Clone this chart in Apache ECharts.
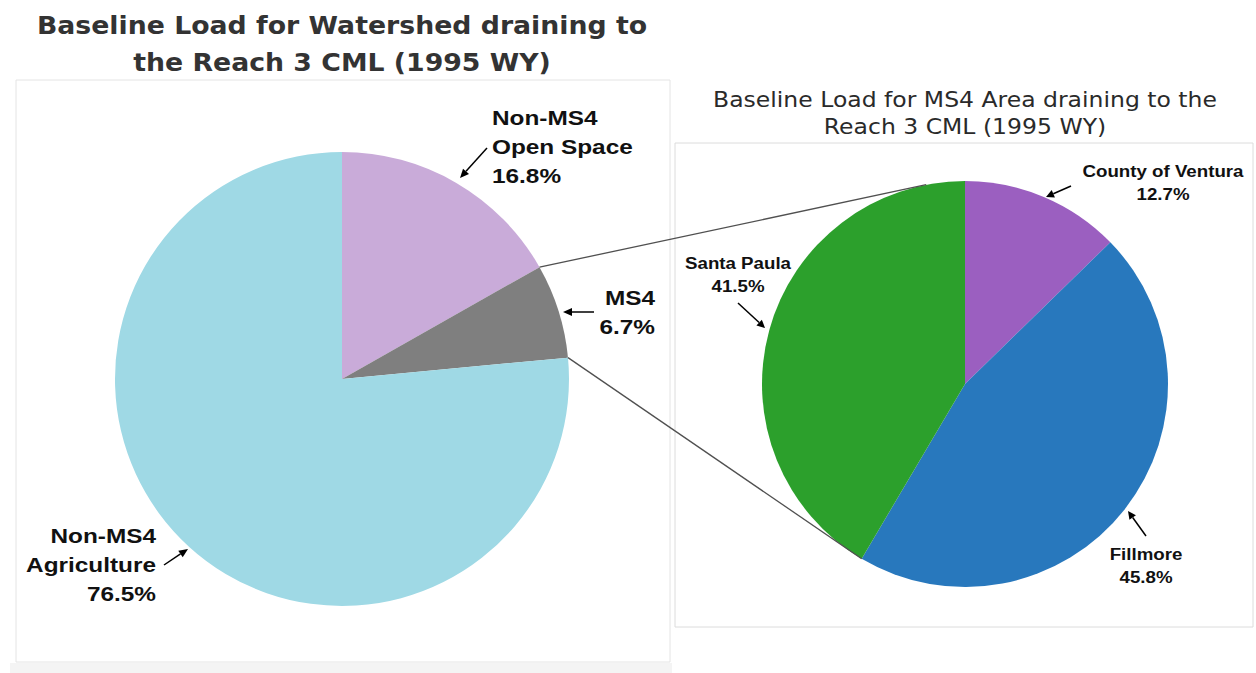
<!DOCTYPE html>
<html>
<head>
<meta charset="utf-8">
<title>Baseline Load - Reach 3 CML</title>
<script src="https://cdn.jsdelivr.net/npm/echarts@6/dist/echarts.min.js"></script>
<style>
  html, body { margin: 0; padding: 0; background: #fff; }
  #chart { width: 1256px; height: 673px; }
</style>
</head>
<body>
<div id="chart"></div>
<script>
// left pie: whole watershed
const watershedNames = ['Non-MS4\nOpen Space', 'MS4', 'Non-MS4\nAgriculture']
const watershedValues = [16.8, 6.7, 76.5]
const watershedColors = ['#C9ABD9', '#7F7F7F', '#9FD9E5']

// right pie: MS4 area split
const ms4Names = ['County of Ventura', 'Fillmore', 'Santa Paula']
const ms4Values = [12.7, 45.8, 41.5]
const ms4Colors = ['#9B5FC0', '#2878BD', '#2CA02C']

const leftTitle = 'Baseline Load for Watershed draining to\nthe Reach 3 CML (1995 WY)'
const rightTitle = 'Baseline Load for MS4 Area draining to the\nReach 3 CML (1995 WY)'

// layout
const LEFT = { cx: 342, cy: 379, r: 227 }
const RIGHT = { cx: 965, cy: 384, r: 203 }

const leftLabels = [
    { x: 492, y: 147, align: 'left', arrow: [487, 148, 460, 178] },
    { x: 655, y: 312, align: 'right', arrow: [594, 312, 563, 312] },
    { x: 156, y: 565, align: 'right', arrow: [164, 565, 188, 549] }
]
const rightLabels = [
    { x: 1163, y: 183, align: 'center', arrow: [1071, 186, 1046, 197] },
    { x: 1146, y: 566, align: 'center', arrow: [1146, 536, 1128, 511] },
    { x: 738, y: 275, align: 'center', arrow: [738, 303, 765, 328] }
]

function sum(arr) {
    return arr.reduce((a, b) => a + b, 0)
}

// point on the rim, frac = share of the circle clockwise from 12 o'clock
function rim(p, frac) {
    let a = frac * 2 * Math.PI
    return [p.cx + p.r * Math.sin(a), p.cy - p.r * Math.cos(a)]
}

function arrow(a, head) {
    let [x1, y1, x2, y2] = a
    let ang = Math.atan2(y2 - y1, x2 - x1)
    let len = head || 9, w = 4
    let bx = x2 - len * Math.cos(ang), by = y2 - len * Math.sin(ang)
    let px = -Math.sin(ang) * w, py = Math.cos(ang) * w
    return [{
        type: 'line', z: 100, silent: true,
        shape: { x1: x1, y1: y1, x2: bx, y2: by },
        style: { stroke: '#000', lineWidth: 1.5 }
    }, {
        type: 'polygon', z: 100, silent: true,
        shape: { points: [[x2, y2], [bx + px, by + py], [bx - px, by - py]] },
        style: { fill: '#000' }
    }]
}

function labelText(name, value) {
    return name + '\n' + value.toFixed(1) + '%'
}

// the original fonts run wide, so text gets a little horizontal stretch
function text(str, x, y, o) {
    return {
        type: 'text', z: 100, silent: true, x: x, y: y, scaleX: o.stretch || 1,
        style: {
            text: str,
            fontFamily: o.family || '"Liberation Sans", Arial, sans-serif',
            fontSize: o.size, fontWeight: o.weight || 'bold', fill: o.color || '#111',
            align: o.align || 'center', verticalAlign: 'middle', lineHeight: o.lineHeight
        }
    }
}

let graphics = []

// panel frames
graphics.push({
    type: 'rect', z: 0, silent: true,
    shape: { x: 16, y: 80, width: 654, height: 582 },
    style: { fill: 'none', stroke: '#E4E4E4', lineWidth: 1 }
})
graphics.push({
    type: 'rect', z: 0, silent: true,
    shape: { x: 10, y: 663, width: 662, height: 10 },
    style: { fill: '#F4F4F4' }
})
graphics.push({
    type: 'rect', z: 0, silent: true,
    shape: { x: 675, y: 143, width: 578, height: 484 },
    style: { fill: 'none', stroke: '#DCDCDC', lineWidth: 1 }
})

// titles
graphics.push(text(leftTitle, LEFT.cx, 43.5, {
    family: '"DejaVu Sans", sans-serif', size: 25, color: '#333', lineHeight: 37, stretch: 1.07
}))
graphics.push(text(rightTitle, RIGHT.cx, 113, {
    family: '"DejaVu Sans", sans-serif', size: 21, weight: 'normal', color: '#2a2a2a', lineHeight: 27, stretch: 1.12
}))

// connector lines from the MS4 slice to the right pie
let wsTotal = sum(watershedValues), msTotal = sum(ms4Values)
let ms4Start = rim(LEFT, watershedValues[0] / wsTotal)
let ms4End = rim(LEFT, (watershedValues[0] + watershedValues[1]) / wsTotal)
let rightTop = rim(RIGHT, 349 / 360)
let rightBottom = rim(RIGHT, (ms4Values[0] + ms4Values[1]) / msTotal)
graphics.push({
    type: 'line', z: 90, silent: true,
    shape: { x1: ms4Start[0], y1: ms4Start[1], x2: rightTop[0], y2: rightTop[1] },
    style: { stroke: '#505050', lineWidth: 1.3 }
})
graphics.push({
    type: 'line', z: 90, silent: true,
    shape: { x1: ms4End[0], y1: ms4End[1], x2: rightBottom[0], y2: rightBottom[1] },
    style: { stroke: '#505050', lineWidth: 1.3 }
})

watershedNames.forEach((n, i) => {
    let l = leftLabels[i]
    graphics.push(text(labelText(n, watershedValues[i]), l.x, l.y, {
        size: 21, align: l.align, lineHeight: 29, stretch: 1.16
    }))
    graphics = graphics.concat(arrow(l.arrow))
})

ms4Names.forEach((n, i) => {
    let l = rightLabels[i]
    graphics.push(text(labelText(n, ms4Values[i]), l.x, l.y, {
        size: 17, align: l.align, lineHeight: 23, stretch: 1.1
    }))
    graphics = graphics.concat(arrow(l.arrow, 8))
})

let chart = echarts.init(document.getElementById('chart'), null, { renderer: 'svg' })

const option = {
    backgroundColor: '#fff',
    animation: false,
    series: [{
        name: 'Watershed',
        type: 'pie',
        center: [LEFT.cx, LEFT.cy],
        radius: LEFT.r,
        startAngle: 90,
        clockwise: true,
        silent: true,
        label: { show: false },
        labelLine: { show: false },
        itemStyle: { borderWidth: 0 },
        data: watershedNames.map((n, i) => ({
            name: n, value: watershedValues[i], itemStyle: { color: watershedColors[i] }
        }))
    }, {
        name: 'MS4 Area',
        type: 'pie',
        center: [RIGHT.cx, RIGHT.cy],
        radius: RIGHT.r,
        startAngle: 90,
        clockwise: true,
        silent: true,
        label: { show: false },
        labelLine: { show: false },
        itemStyle: { borderWidth: 0 },
        data: ms4Names.map((n, i) => ({
            name: n, value: ms4Values[i], itemStyle: { color: ms4Colors[i] }
        }))
    }],
    graphic: { elements: graphics }
}

chart.setOption(option)
</script>
</body>
</html>
